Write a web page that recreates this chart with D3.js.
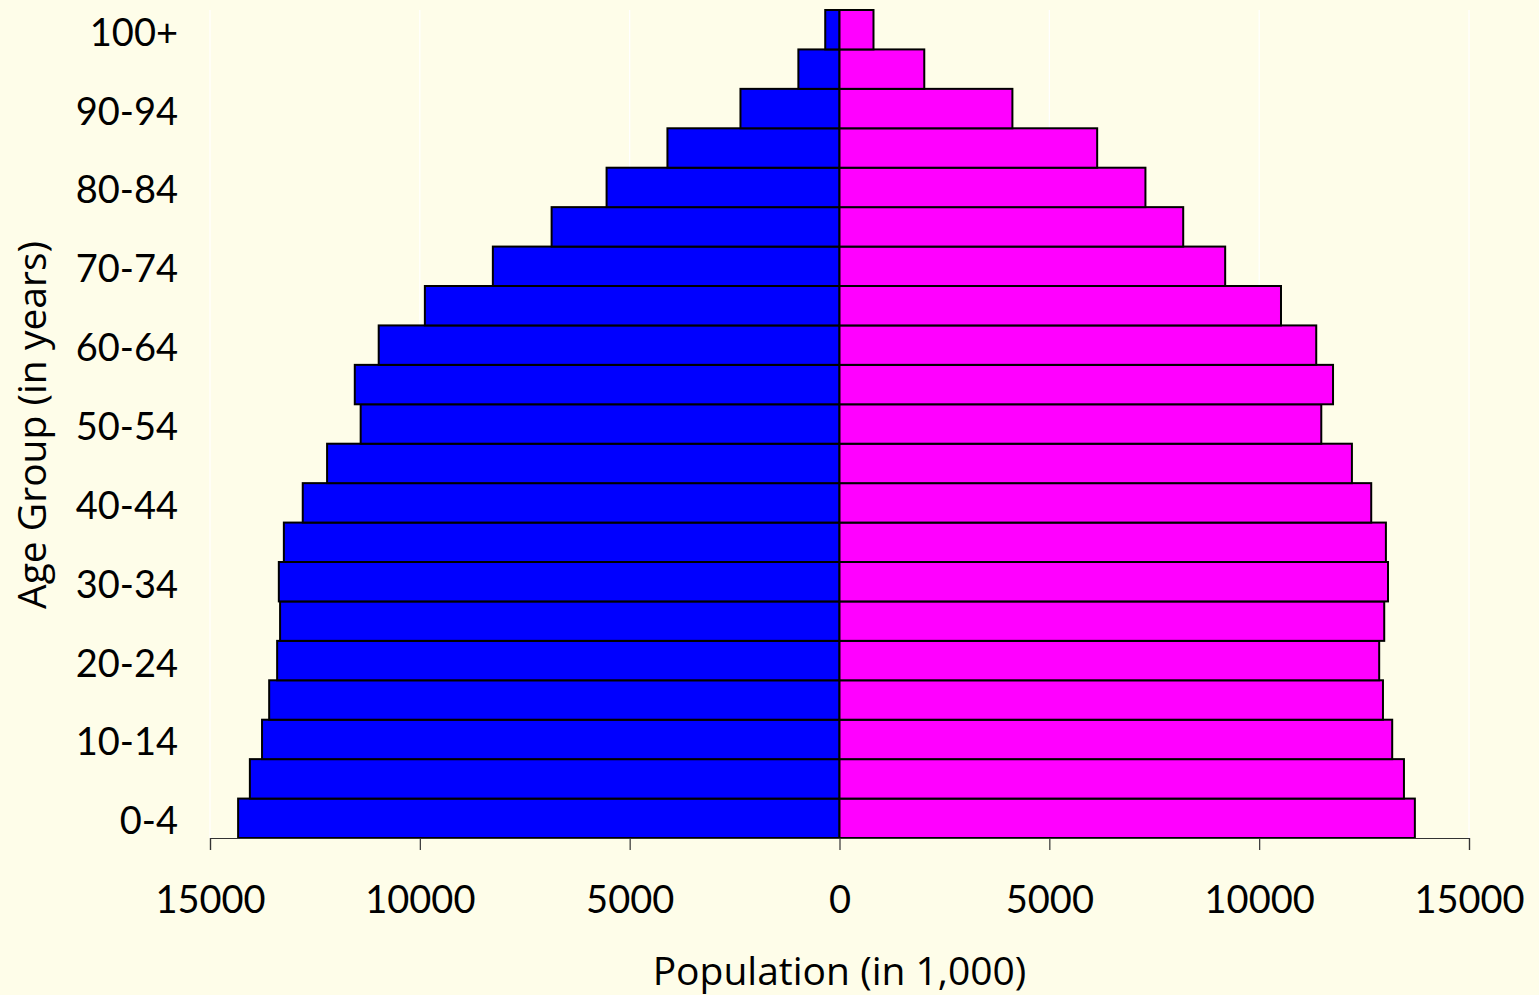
<!DOCTYPE html>
<html>
<head>
<meta charset="utf-8">
<script src="https://cdn.jsdelivr.net/npm/d3@7"></script>
<style>
  html, body { margin: 0; padding: 0; background: #fefde9; }
</style>
</head>
<body>
<div id="chart"></div>
<script>
// age groups, youngest first
const ageGroups = ['0-4', '5-9', '10-14', '15-19', '20-24', '25-29', '30-34', '35-39',
    '40-44', '45-49', '50-54', '55-59', '60-64', '65-69', '70-74', '75-79',
    '80-84', '85-89', '90-94', '95-99', '100+'];

// population in 1,000
const male = [14330, 14050, 13760, 13590, 13400, 13330, 13360, 13240, 12790, 12210,
    11410, 11550, 10980, 9880, 8260, 6860, 5550, 4100, 2360, 980, 340];
const female = [13710, 13450, 13170, 12950, 12860, 12980, 13070, 13020, 12670, 12210,
    11480, 11760, 11360, 10520, 9190, 8190, 7290, 6140, 4120, 2020, 810];

const xTicks = [-15000, -10000, -5000, 0, 5000, 10000, 15000];
const yLabels = ['0-4', '10-14', '20-24', '30-34', '40-44', '50-54', '60-64', '70-74', '80-84', '90-94', '100+'];

const W = 1539, H = 995;
const margin = { top: 10, right: 70, bottom: 157, left: 210 };
const width = W - margin.left - margin.right;
const height = H - margin.top - margin.bottom;

const svg = d3.select('#chart')
    .append('svg')
    .attr('width', W)
    .attr('height', H)
    .style('font-family', 'Lato, "Noto Sans", sans-serif');

svg.append('rect').attr('width', W).attr('height', H).attr('fill', '#fefde9');

const g = svg.append('g')
    .attr('transform', `translate(${margin.left},${margin.top})`);

const x = d3.scaleLinear().domain([-15000, 15000]).range([0, width]);
const y = d3.scaleBand().domain(ageGroups.slice().reverse()).range([0, height]).padding(0);

// faint gridlines at ticks
g.selectAll('.grid')
    .data(xTicks)
    .join('line')
    .attr('x1', d => x(d)).attr('x2', d => x(d))
    .attr('y1', 0).attr('y2', height)
    .attr('stroke', '#ffffff')
    .attr('stroke-width', 1.2);

// male bars
g.selectAll('.male')
    .data(ageGroups)
    .join('rect')
    .attr('x', (d, i) => x(-male[i]))
    .attr('y', d => y(d))
    .attr('width', (d, i) => x(0) - x(-male[i]))
    .attr('height', y.bandwidth())
    .attr('fill', '#0000ff')
    .attr('stroke', '#000')
    .attr('stroke-width', 2);

// female bars
g.selectAll('.female')
    .data(ageGroups)
    .join('rect')
    .attr('x', x(0))
    .attr('y', d => y(d))
    .attr('width', (d, i) => x(female[i]) - x(0))
    .attr('height', y.bandwidth())
    .attr('fill', '#ff00ff')
    .attr('stroke', '#000')
    .attr('stroke-width', 2);

// x axis
const xAxis = g.append('g')
    .attr('transform', `translate(0,${height})`)
    .call(d3.axisBottom(x).tickValues(xTicks).tickFormat(d => Math.abs(d)).tickSize(12).tickPadding(36));
xAxis.select('.domain').attr('stroke', '#333').attr('stroke-width', 1.2);
xAxis.selectAll('.tick line').attr('stroke', '#333').attr('stroke-width', 1.2);
xAxis.selectAll('text')
    .style('font-size', '38px')
    .style('font-family', 'Lato, sans-serif')
    .attr('fill', '#000');

// y labels, every other group
const yAxis = g.append('g')
    .call(d3.axisLeft(y).tickValues(yLabels).tickSize(0).tickPadding(32));
yAxis.select('.domain').remove();
yAxis.selectAll('text')
    .attr('dy', '0.42em')
    .style('font-size', '38px')
    .style('font-family', 'Lato, sans-serif')
    .attr('fill', '#000');

// axis titles
svg.append('text')
    .attr('x', margin.left + x(0))
    .attr('y', 985)
    .attr('text-anchor', 'middle')
    .style('font-size', '39px')
    .style('font-family', '"Open Sans", sans-serif')
    .attr('fill', '#000')
    .text('Population (in 1,000)');

svg.append('text')
    .attr('transform', 'rotate(-90)')
    .attr('x', -425)
    .attr('y', 46)
    .attr('text-anchor', 'middle')
    .style('font-size', '39px')
    .style('font-family', '"Open Sans", sans-serif')
    .attr('fill', '#000')
    .text('Age Group (in years)');
</script>
</body>
</html>
